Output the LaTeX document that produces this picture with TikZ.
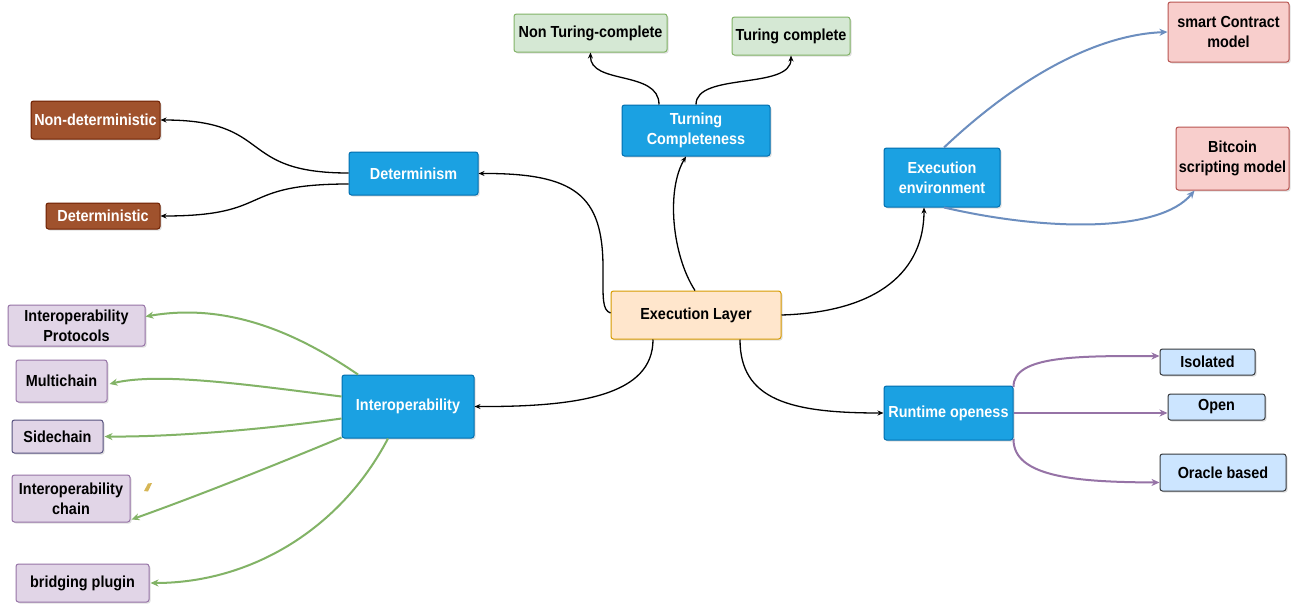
\documentclass[tikz,border=0pt]{standalone}
\usepackage{fontspec}
\setmainfont{Liberation Sans}[FakeStretch=0.9]
\usetikzlibrary{arrows.meta,shadows,calc}
\definecolor{bluefill}{HTML}{1BA1E2}
\definecolor{bluedraw}{HTML}{006EAF}
\definecolor{brownfill}{HTML}{A0522D}
\definecolor{browndraw}{HTML}{6D1F00}
\definecolor{greenfill}{HTML}{D5E8D4}
\definecolor{greendraw}{HTML}{82B366}
\definecolor{pinkfill}{HTML}{F8CECC}
\definecolor{pinkdraw}{HTML}{B85450}
\definecolor{orangefill}{HTML}{FFE6CC}
\definecolor{orangedraw}{HTML}{D79B00}
\definecolor{purplefill}{HTML}{E1D5E7}
\definecolor{purpledraw}{HTML}{9673A6}
\definecolor{darkpurple}{HTML}{56517E}
\definecolor{lbluefill}{HTML}{CCE5FF}
\definecolor{lbluedraw}{HTML}{36393D}
\definecolor{edgeblue}{HTML}{6C8EBF}
\definecolor{diamcol}{HTML}{D6B656}
\tikzset{
  box/.style={rectangle, rounded corners=2.5pt, line width=1pt, inner sep=0pt, align=center,
    font=\fontsize{16pt}{20pt}\selectfont\bfseries,
    drop shadow={opacity=0.25, shadow xshift=1.5pt, shadow yshift=-1.5pt}},
  bluebox/.style={box, fill=bluefill, draw=bluedraw, text=white},
  brownbox/.style={box, fill=brownfill, draw=browndraw, text=white},
  greenbox/.style={box, fill=greenfill, draw=greendraw},
  pinkbox/.style={box, fill=pinkfill, draw=pinkdraw},
  orangebox/.style={box, fill=orangefill, draw=orangedraw},
  purplebox/.style={box, fill=purplefill, draw=purpledraw},
  lbluebox/.style={box, fill=lbluefill, draw=lbluedraw},
  blk/.style={draw=black, line width=1.3pt, -{Stealth[length=6pt,width=5pt]}},
  gedge/.style={draw=greendraw, line width=2pt, -{Stealth[length=8pt,width=7pt,inset=2.5pt]}},
  bedge/.style={draw=edgeblue, line width=2pt, -{Stealth[length=8pt,width=7pt,inset=2.5pt]}},
  pedge/.style={draw=purpledraw, line width=2pt, -{Stealth[length=8pt,width=7pt,inset=2.5pt]}},
}
\begin{document}
\begin{tikzpicture}[x=1pt,y=-1pt]
\useasboundingbox[fill=white] (0,0) rectangle (1298,603);
% nodes
\node[brownbox, minimum width=129pt, minimum height=38pt] (nondet) at (95.5,120) {Non-deterministic};
\node[brownbox, minimum width=114pt, minimum height=26pt] (det) at (103,216) {Deterministic};
\node[bluebox, minimum width=129pt, minimum height=43pt] (determ) at (413.5,173.5) {Determinism};
\node[greenbox, minimum width=153pt, minimum height=38pt] (ntc) at (590.5,33) {Non Turing-complete};
\node[greenbox, minimum width=118pt, minimum height=38pt] (tc) at (791,36) {Turing complete};
\node[bluebox, minimum width=148pt, minimum height=51pt] (turc) at (696,130.5) {Turning\\Completeness};
\node[pinkbox, minimum width=121pt, minimum height=60pt] (smart) at (1228.5,32) {smart Contract\\model};
\node[pinkbox, minimum width=113pt, minimum height=63pt] (bitcoin) at (1232.5,158.5) {Bitcoin\\scripting model};
\node[bluebox, minimum width=116pt, minimum height=59pt] (execenv) at (942,177.5) {Execution\\environment};
\node[orangebox, minimum width=170pt, minimum height=48pt] (el) at (696,315) {Execution Layer};
\node[bluebox, minimum width=132pt, minimum height=63pt] (interop) at (408,406.5) {Interoperability};
\node[purplebox, minimum width=137pt, minimum height=41pt] (ip) at (76.5,325.5) {Interoperability\\Protocols};
\node[purplebox, minimum width=91pt, minimum height=42pt] (multi) at (61.5,381) {Multichain};
\node[purplebox, draw=darkpurple, minimum width=91pt, minimum height=33pt] (side) at (57.5,436.5) {Sidechain};
\node[purplebox, minimum width=118pt, minimum height=47pt] (ichain) at (71,498.5) {Interoperability\\chain};
\node[purplebox, minimum width=133pt, minimum height=38pt] (bridge) at (82.5,583) {bridging plugin};
\node[bluebox, minimum width=129pt, minimum height=54pt] (runtime) at (948.5,413) {Runtime openess};
\node[lbluebox, minimum width=95pt, minimum height=26pt] (isolated) at (1207.5,362) {Isolated};
\node[lbluebox, minimum width=97pt, minimum height=26pt] (open) at (1216.5,407) {Open};
\node[lbluebox, minimum width=126pt, minimum height=37pt] (oracle) at (1223,472.5) {Oracle based};
% small marker
\fill[diamcol] (144,491) -- (148,483.5) -- (152,483) -- (148,491.5) -- cycle;
% black connectors
\draw[blk] ([yshift=2pt]el.west) .. controls (602,310) and (603,298) .. (603,268)
  .. controls (603,195) and (575,173) .. (determ.east);
\draw[blk] ([xshift=-1pt]el.north) .. controls (672,255) and (666,190) .. ([xshift=-10pt]turc.south);
\draw[blk] (el.east) .. controls (880,312) and (924,270) .. ([xshift=-18pt]execenv.south);
\draw[blk] ([xshift=-43pt]el.south) .. controls (653,395) and (580,407) .. (interop.east);
\draw[blk] ([xshift=44pt]el.south) .. controls (740,400) and (790,413) .. (runtime.west);
\draw[blk] ([yshift=0.5pt]determ.west) .. controls (235,173) and (275,120) .. (nondet.east);
\draw[blk] ([yshift=-10.5pt]determ.west) .. controls (235,184) and (275,216) .. (det.east);
\draw[blk] ([xshift=-37pt]turc.north) .. controls (659,70) and (590,85) .. (ntc.south);
\draw[blk] (turc.north) .. controls (696,72) and (791,90) .. (tc.south);
% blue connectors
\draw[bedge] ([xshift=2pt]execenv.north) .. controls (1010,85) and (1090,35) .. (smart.west);
\draw[bedge] ([xshift=2pt]execenv.south) .. controls (1050,232) and (1160,232) .. ([xshift=-38pt]bitcoin.south);
% green connectors
\draw[gedge] ([xshift=-50pt]interop.north) .. controls (300,335) and (230,302) .. ([yshift=9pt]ip.east);
\draw[gedge] ([yshift=10pt]interop.west) .. controls (250,385) and (160,372) .. ([xshift=2pt,yshift=-3pt]multi.east);
\draw[gedge] ([yshift=-12pt]interop.west) .. controls (260,430) and (170,437) .. ([xshift=1pt]side.east);
\draw[gedge] ([yshift=-31pt]interop.west) .. controls (270,467) and (200,495) .. ([xshift=1pt,yshift=-21pt]ichain.east);
\draw[gedge] ([xshift=-20pt]interop.south) .. controls (340,530) and (250,583) .. ([xshift=1pt]bridge.east);
% purple connectors
\draw[pedge] ([yshift=26pt]runtime.east) .. controls (1013,355) and (1080,356) .. ([yshift=6pt]isolated.west);
\draw[pedge] (runtime.east) -- (open.west |- runtime.east);
\draw[pedge] ([yshift=-26pt]runtime.east) .. controls (1013,478) and (1080,482) .. ([yshift=-10pt]oracle.west);
\end{tikzpicture}
\end{document}
